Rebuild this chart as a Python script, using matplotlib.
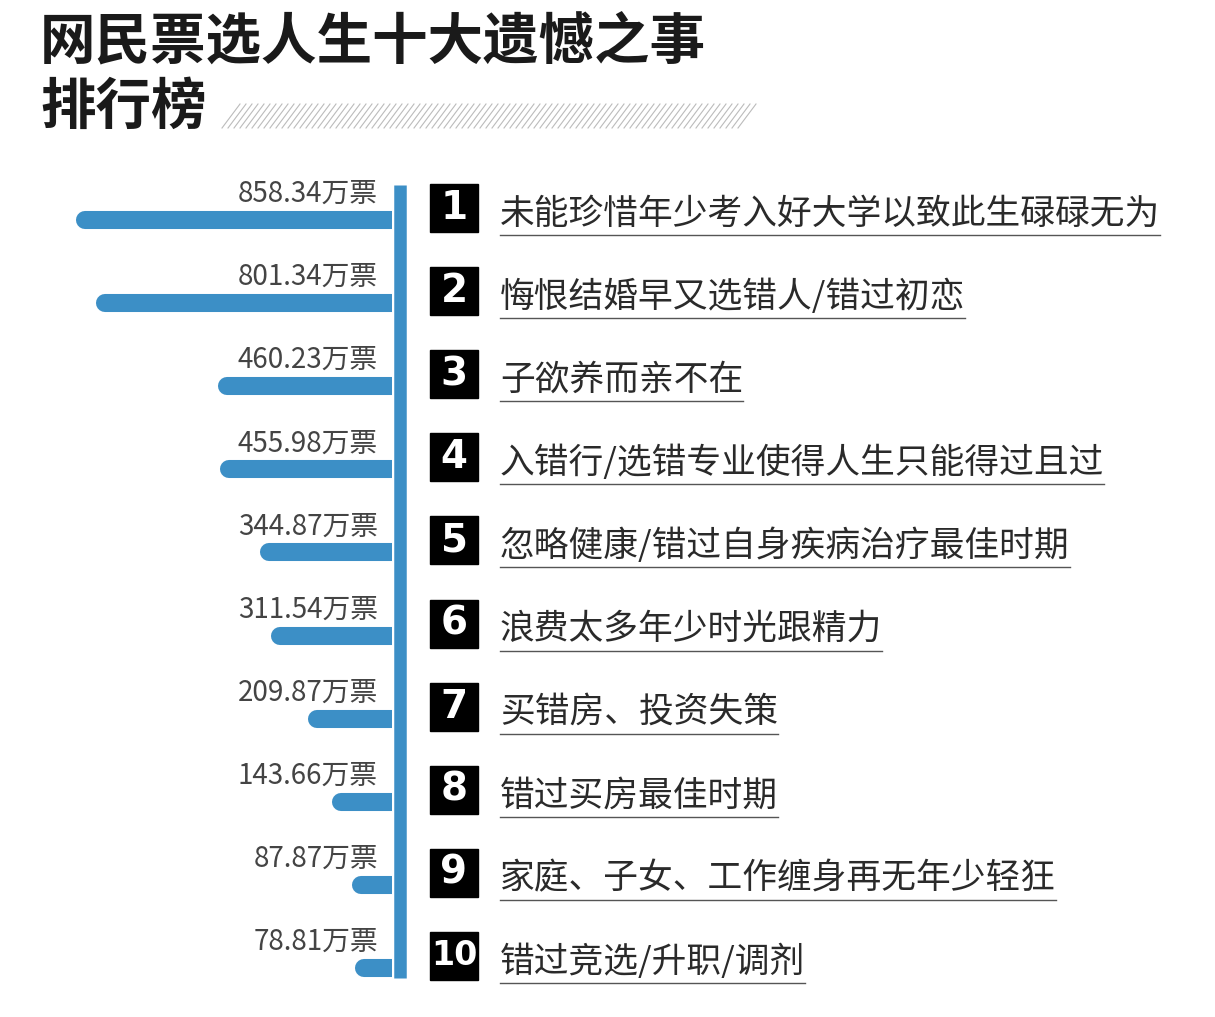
import matplotlib
matplotlib.use("Agg")
import matplotlib.pyplot as plt
from matplotlib.patches import Rectangle

plt.rcParams['font.family'] = ['Noto Sans CJK SC', 'DejaVu Sans']

ranks = ["1", "2", "3", "4", "5", "6", "7", "8", "9", "10"]
votes = [858.34, 801.34, 460.23, 455.98, 344.87, 311.54, 209.87, 143.66, 87.87, 78.81]
items = ["未能珍惜年少考入好大学以致此生碌碌无为", "悔恨结婚早又选错人/错过初恋", "子欲养而亲不在",
         "入错行/选错专业使得人生只能得过且过", "忽略健康/错过自身疾病治疗最佳时期", "浪费太多年少时光跟精力",
         "买错房、投资失策", "错过买房最佳时期", "家庭、子女、工作缠身再无年少轻狂", "错过竞选/升职/调剂"]

W, H = 1215, 1017
BLUE = "#3c8fc6"
fig = plt.figure(figsize=(W/100, H/100), dpi=100)
fig.patch.set_facecolor("white")
ax = fig.add_axes([0, 0, 1, 1])
ax.set_xlim(0, W); ax.set_ylim(H, 0); ax.axis("off")

# title
ax.text(40, 42, "网民票选人生十大遗憾之事", fontsize=40, fontweight="bold", va="center", color="#1a1a1a")
ax.text(40, 108, "排行榜", fontsize=40, fontweight="bold", va="center", color="#1a1a1a")
for x in range(222, 740, 6):
    ax.plot([x, x + 18], [128, 104], color="#bbbbbb", lw=0.8)

row_y = [220 + i * 83.1 for i in range(10)]

bx = fig.add_axes([0, 0, 392 / W, 1])
bx.set_ylim(H, 0); bx.set_xlim(1095, 0); bx.axis("off")
bx.hlines(row_y, 0, votes, color=BLUE, lw=13, capstyle="round")

ax.plot([400, 400], [185, 978], color=BLUE, lw=9, solid_capstyle="butt")

texts = []
for i, (r, v, t) in enumerate(zip(ranks, votes, items)):
    y = row_y[i]
    ax.text(378, y - 26, f"{v:.2f}万票", fontsize=20, ha="right", va="center", color="#444444")
    ax.add_patch(Rectangle((430, y - 36), 48, 48, color="black"))
    ax.text(454, y - 12, r, fontsize=28 if len(r) == 1 else 24, fontweight="bold", color="white",
            ha="center", va="center", family="DejaVu Sans")
    texts.append(ax.text(500, y - 6, t, fontsize=25, va="center", color="#2a2a2a"))

fig.canvas.draw()
r = fig.canvas.get_renderer()
inv = ax.transData.inverted()
for i, t in enumerate(texts):
    bb = t.get_window_extent(r)
    x1 = inv.transform((bb.x1, 0))[0]
    ax.plot([500, x1], [row_y[i] + 15] * 2, color="#555555", lw=1)

fig.savefig("out.png", dpi=100, facecolor="white")
